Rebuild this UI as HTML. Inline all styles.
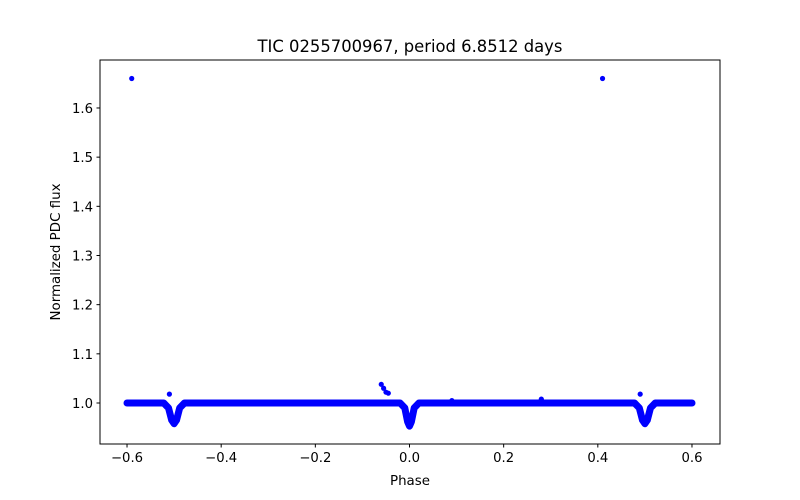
<!DOCTYPE html>
<html><head><meta charset="utf-8"><style>
body{margin:0;background:#fff}
svg{display:block;font-family:"DejaVu Sans","Liberation Sans",sans-serif}
</style></head><body>
<svg id="chart" width="800" height="500">
<rect width="800" height="500" fill="#fff"/>
<text x="410" y="52" font-size="16.4" text-anchor="middle">TIC 0255700967, period 6.8512 days</text>
<g id="marks"></g>
<rect x="100" y="60" width="620" height="384" fill="none" stroke="#000" stroke-width="1"/>
<g id="xt"></g><g id="yt"></g>
<text x="410" y="485" font-size="13.4" text-anchor="middle">Phase</text>
<text transform="translate(60,252) rotate(-90)" font-size="13.4" text-anchor="middle">Normalized PDC flux</text>
</svg>
<script>
const curvePhase=[-0.6,-0.522,-0.512,-0.505,-0.5,-0.495,-0.488,-0.478,-0.02,-0.01,-0.004,0,0.004,0.01,0.02,0.478,0.488,0.495,0.5,0.505,0.512,0.522,0.6];
const curveFlux=[1,1,0.99,0.965,0.958,0.965,0.99,1,1,0.99,0.962,0.953,0.962,0.99,1,1,0.99,0.965,0.958,0.965,0.99,1,1];
const outPhase=[-0.59,0.41,-0.51,0.49,-0.06,-0.055,-0.05,-0.045,0.28,0.09];
const outFlux=[1.66,1.66,1.018,1.018,1.038,1.03,1.022,1.02,1.008,1.005];
const xTicks=[-0.6,-0.4,-0.2,0.0,0.2,0.4,0.6];
const xLabels=["−0.6","−0.4","−0.2","0.0","0.2","0.4","0.6"];
const yTicks=[1.0,1.1,1.2,1.3,1.4,1.5,1.6];
const yLabels=["1.0","1.1","1.2","1.3","1.4","1.5","1.6"];
const X=p=>409.5+p*470.8;
const Y=f=>403-(f-1)*491.7;
const NS="http://www.w3.org/2000/svg";
const marks=document.getElementById('marks');
let d=curvePhase.map((p,i)=>(i?'L':'M')+X(p).toFixed(1)+','+Y(curveFlux[i]).toFixed(1)).join(' ');
const path=document.createElementNS(NS,'path');
path.setAttribute('d',d);path.setAttribute('fill','none');path.setAttribute('stroke','#0000ff');
path.setAttribute('stroke-width','7');path.setAttribute('stroke-linejoin','round');path.setAttribute('stroke-linecap','round');


marks.appendChild(path);
outPhase.forEach((p,i)=>{
 const c=document.createElementNS(NS,'circle');
 c.setAttribute('cx',X(p));c.setAttribute('cy',Y(outFlux[i]));c.setAttribute('r','2.6');c.setAttribute('fill','#0000ff');
 
 
 marks.appendChild(c);
});
const xt=document.getElementById('xt');
xTicks.forEach((t,i)=>{
 const l=document.createElementNS(NS,'line');
 l.setAttribute('x1',X(t));l.setAttribute('x2',X(t));l.setAttribute('y1',444);l.setAttribute('y2',447.5);l.setAttribute('stroke','#000');
 
 
 xt.appendChild(l);
 const tx=document.createElementNS(NS,'text');
 tx.setAttribute('x',X(t));tx.setAttribute('y',462);tx.setAttribute('font-size','13.2');tx.setAttribute('text-anchor','middle');
 tx.textContent=xLabels[i];
 
 
 xt.appendChild(tx);
});
const yt=document.getElementById('yt');
yTicks.forEach((t,i)=>{
 const l=document.createElementNS(NS,'line');
 l.setAttribute('x1',96.5);l.setAttribute('x2',100);l.setAttribute('y1',Y(t));l.setAttribute('y2',Y(t));l.setAttribute('stroke','#000');
 
 
 yt.appendChild(l);
 const tx=document.createElementNS(NS,'text');
 tx.setAttribute('x',93);tx.setAttribute('y',Y(t)+5);tx.setAttribute('font-size','13.2');tx.setAttribute('text-anchor','end');
 tx.textContent=yLabels[i];
 
 
 yt.appendChild(tx);
});
</script>
</body></html>
